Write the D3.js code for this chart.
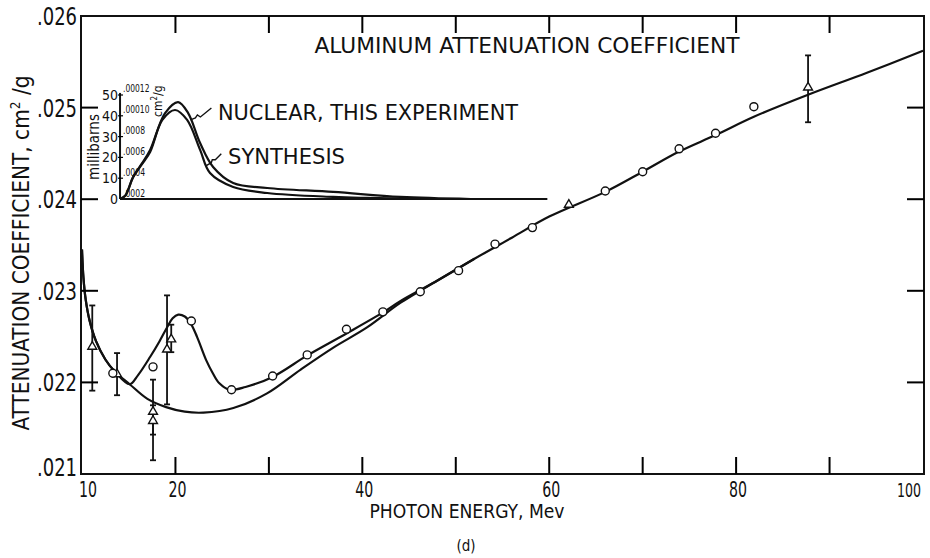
<!DOCTYPE html>
<html>
<head>
  <meta charset="utf-8" />
  <script src="https://cdn.jsdelivr.net/npm/d3@7"></script>
  <style>
    body { margin: 0; background: #fff; }
    svg { display: block; font-family: "Liberation Sans Narrow", "DejaVu Sans Condensed", "Liberation Sans", sans-serif; }
    .frame { fill: none; stroke: #111; stroke-width: 2px; }
    .curve { fill: none; stroke: #111; stroke-width: 2.2px; }
    .err { stroke: #111; stroke-width: 1.8px; }
    .pt { fill: #fff; stroke: #111; stroke-width: 1.4px; }
    .tk { fill: #000; stroke: none; }
    text { fill: #111; }
  </style>
</head>
<body>
<script>
  "use strict";

  // circles (MeV, cm2/g)
  var circleE  = [13.3, 17.6, 21.7, 26.0, 30.4, 34.1, 38.3, 42.2, 46.2, 50.3, 54.2, 58.2, 66.0, 70.0, 73.9, 77.8, 81.9];
  var circleMu = [.02210, .02217, .02267, .02192, .02207, .02230, .02258, .02277, .02299, .02322, .02351, .02369, .02409, .02430, .02455, .02472, .02501];

  // triangles with error bars
  var triE  = [11.1, 13.75, 17.6, 17.6, 19.1, 19.55, 62.1, 87.7];
  var triMu = [.02239, .02209, .02168, .02158, .02236, .02247, .02394, .02522];
  var triLo = [.02191, .02186, .02143, .02115, .02176, .02233, null, .02484];
  var triHi = [.02284, .02232, .02203, .02175, .02295, .02263, null, .02557];

  // smooth (electronic) curve
  var lowE  = [10.0, 10.15, 10.4, 10.8, 11.5, 12.5, 13.5, 15.1, 17.0, 19.0, 21.0, 23.0, 26.2, 29.8, 33.4, 36.9, 40.5, 44.1, 48.0, 52.0, 56.0, 60.0, 66.0, 70.0, 73.9, 77.8, 81.9, 87.7, 94.0, 100.0];
  var lowMu = [.02345, .02315, .02290, .02268, .02245, .02225, .02212, .02198, .02182, .02173, .02168, .02167, .02172, .02188, .02214, .02238, .02260, .02287, .02311, .02335, .02358, .02381, .02408, .02430, .02452, .02470, .02490, .02514, .02538, .02562];

  // curve with nuclear resonance
  var topE  = [10.0, 10.15, 10.4, 10.8, 11.5, 12.5, 13.5, 15.1, 16.0, 17.3, 18.3, 19.1, 19.7, 20.3, 21.0, 21.6, 22.3, 23.3, 24.0, 24.7, 25.8, 27.5, 30.4, 34.2, 38.4, 42.3, 44.1, 48.0, 52.0];
  var topMu = [.02345, .02315, .02290, .02268, .02245, .02225, .02212, .02198, .02208, .02228, .02245, .02260, .02270, .02274, .02272, .02265, .02250, .02224, .02210, .02199, .02192, .02195, .02206, .02230, .02254, .02277, .02289, .02311, .02335];

  // inset cross sections (MeV, millibarns)
  var nucE  = [14.07, 14.6, 14.93, 15.46, 16.4, 17.29, 18.89, 20.29, 21.36, 22.64, 24.03, 26.18, 29.82, 36.89, 44.07, 51.6];
  var nucMb = [0, 1.4, 4.3, 10.6, 17.0, 23.6, 41.3, 46.6, 41.3, 26.9, 15.4, 7.7, 5.3, 3.4, 1.0, 0];
  var synE  = [14.07, 14.6, 14.93, 15.46, 16.4, 17.29, 18.6, 19.96, 21.25, 22.64, 23.7, 26.18, 29.82, 36.89, 40.5, 46.2];
  var synMb = [0, 1.4, 4.3, 10.3, 16.6, 22.6, 38, 42.8, 38, 23.6, 12.5, 5.8, 2.9, 1.0, 0.5, 0];

  var yTicks = [.021, .022, .023, .024, .025, .026];
  var yTickLabels = [".021", ".022", ".023", ".024", ".025", ".026"];
  var yInner = [.022, .023, .024, .025];
  var xTicks = [20, 30, 40, 50, 60, 70, 80, 90];
  var xLabelVals = [10, 20, 40, 60, 80, 100];
  var mbTicks = [0, 10, 20, 30, 40, 50];
  var cmTicks = [2, 4, 6, 8, 10, 12];
  var cmTickLabels = [".0002", ".0004", ".0006", ".0008", ".00010", ".00012"];

  var width = 930, height = 558;
  var pL = 81, pR = 924, pT = 16, pB = 474, tickLen = 17, tickW = 2;

  var svg = d3.select("body").append("svg")
    .attr("width", width)
    .attr("height", height);

  var x = d3.scaleLinear().domain([10, 100]).range([82, 923]);
  var y = d3.scaleLinear().domain([.021, .026]).range([pB, pT]);
  var yMb = d3.scaleLinear().domain([0, 50]).range([199, 95]);
  var yCm = d3.scaleLinear().domain([2, 12]).range([193, 88]);

  // frame
  svg.append("rect").attr("class", "frame")
    .attr("x", pL).attr("y", pT)
    .attr("width", pR - pL).attr("height", pB - pT);

  // y tick labels
  svg.selectAll("text.ylab").data(yTicks).enter().append("text")
    .attr("class", "ylab")
    .attr("x", 77)
    .attr("y", function(d, i) { return i === 0 ? y(d) + 2 : y(d) + 9; })
    .attr("text-anchor", "end")
    .attr("font-size", 24)
    .attr("textLength", 40).attr("lengthAdjust", "spacingAndGlyphs")
    .text(function(d, i) { return yTickLabels[i]; });

  // x tick labels
  svg.selectAll("text.xlab").data(xLabelVals).enter().append("text")
    .attr("class", "xlab")
    .attr("x", function(d) { return d === 100 ? x(d) - 14 : (d === 10 ? x(d) + 6 : x(d) + 2); })
    .attr("y", 497)
    .attr("text-anchor", "middle")
    .attr("font-size", function(d) { return d === 100 ? 20 : 21; })
    .attr("textLength", function(d) { return d === 100 ? 24 : 18; })
    .attr("lengthAdjust", "spacingAndGlyphs")
    .text(function(d) { return d; });

  // axis titles
  svg.append("text")
    .attr("x", 467).attr("y", 518)
    .attr("text-anchor", "middle")
    .attr("font-size", 19)
    .attr("textLength", 195).attr("lengthAdjust", "spacingAndGlyphs")
    .text("PHOTON ENERGY, Mev");

  var ylab = svg.append("text")
    .attr("transform", "translate(29,253) rotate(-90)")
    .attr("text-anchor", "middle")
    .attr("font-size", 23)
    .attr("textLength", 355).attr("lengthAdjust", "spacingAndGlyphs");
  ylab.append("tspan").text("ATTENUATION COEFFICIENT, cm");
  ylab.append("tspan").attr("font-size", 14).attr("dy", -9).text("2");
  ylab.append("tspan").attr("dy", 9).text(" /g");

  svg.append("text")
    .attr("x", 527).attr("y", 53)
    .attr("text-anchor", "middle")
    .attr("font-size", 21)
    .attr("textLength", 425).attr("lengthAdjust", "spacingAndGlyphs")
    .text("ALUMINUM ATTENUATION COEFFICIENT");

  svg.append("text")
    .attr("x", 466).attr("y", 551)
    .attr("text-anchor", "middle")
    .attr("font-size", 15)
    .text("(d)");

  // main curves
  var line = d3.line()
    .x(function(d) { return x(d[0]); })
    .y(function(d) { return y(d[1]); })
    .curve(d3.curveCatmullRom.alpha(0.5));

  svg.append("path").attr("class", "curve")
    .attr("d", line(d3.zip(lowE, lowMu)));
  svg.append("path").attr("class", "curve")
    .attr("d", line(d3.zip(topE, topMu)));

  // error bars
  var tri = d3.range(triE.length).map(function(i) {
    return { e: triE[i], mu: triMu[i], lo: triLo[i], hi: triHi[i] };
  });
  var withErr = tri.filter(function(d) { return d.lo !== null; });
  svg.selectAll("line.errv").data(withErr).enter().append("line")
    .attr("class", "err")
    .attr("x1", function(d) { return x(d.e); })
    .attr("x2", function(d) { return x(d.e); })
    .attr("y1", function(d) { return y(d.lo); })
    .attr("y2", function(d) { return y(d.hi); });
  ["lo", "hi"].forEach(function(k) {
    svg.selectAll("line.cap" + k).data(withErr).enter().append("line")
      .attr("class", "err")
      .attr("x1", function(d) { return x(d.e) - 3; })
      .attr("x2", function(d) { return x(d.e) + 3; })
      .attr("y1", function(d) { return y(d[k]); })
      .attr("y2", function(d) { return y(d[k]); });
  });

  // triangles
  svg.selectAll("path.tri").data(tri).enter().append("path")
    .attr("class", "pt")
    .attr("d", d3.symbol().type(d3.symbolTriangle).size(34))
    .attr("transform", function(d) { return "translate(" + x(d.e) + "," + y(d.mu) + ")"; });

  // circles
  svg.selectAll("circle.pt").data(d3.zip(circleE, circleMu)).enter().append("circle")
    .attr("class", "pt")
    .attr("r", 4)
    .attr("cx", function(d) { return x(d[0]); })
    .attr("cy", function(d) { return y(d[1]); });

  // inset
  var inset = svg.append("g");
  var ix = x(14.07);
  inset.append("line")
    .attr("stroke", "#111").attr("stroke-width", 2)
    .attr("x1", ix).attr("x2", ix)
    .attr("y1", yMb(0)).attr("y2", yMb(51));
  inset.append("line")
    .attr("stroke", "#111").attr("stroke-width", 2)
    .attr("x1", ix).attr("x2", x(59.8))
    .attr("y1", yMb(0)).attr("y2", yMb(0));

  inset.selectAll("rect.mbt").data(mbTicks.slice(1)).enter().append("rect")
    .attr("class", "tk")
    .attr("x", ix - 2).attr("width", 5)
    .attr("y", function(d) { return yMb(d) - 0.6; }).attr("height", 1.2);

  inset.selectAll("text.mb").data(mbTicks).enter().append("text")
    .attr("x", ix - 2)
    .attr("y", function(d) { return yMb(d) + 5; })
    .attr("text-anchor", "end")
    .attr("font-size", 14)
    .text(function(d) { return d; });

  inset.selectAll("text.cm").data(cmTicks).enter().append("text")
    .attr("x", ix + 3)
    .attr("y", function(d) { return yCm(d) + 4; })
    .attr("font-size", 11)
    .attr("textLength", function(d, i) { return cmTickLabels[i].length * 4.4; })
    .attr("lengthAdjust", "spacingAndGlyphs")
    .text(function(d, i) { return cmTickLabels[i]; });

  inset.append("text")
    .attr("transform", "translate(" + (ix - 21) + "," + yMb(25) + ") rotate(-90)")
    .attr("text-anchor", "middle")
    .attr("font-size", 15)
    .text("millibarns");

  var cmLab = inset.append("text")
    .attr("transform", "translate(" + (ix + 42) + "," + yMb(47) + ") rotate(-90)")
    .attr("text-anchor", "middle")
    .attr("font-size", 12);
  cmLab.append("tspan").text("cm");
  cmLab.append("tspan").attr("font-size", 8).attr("dy", -5).text("2");
  cmLab.append("tspan").attr("dy", 5).text("/g");

  var inLine = d3.line()
    .x(function(d) { return x(d[0]); })
    .y(function(d) { return yMb(d[1]); })
    .curve(d3.curveCatmullRom.alpha(0.5));

  inset.append("path").attr("class", "curve").attr("stroke-width", 2)
    .attr("d", inLine(d3.zip(nucE, nucMb)));
  inset.append("path").attr("class", "curve").attr("stroke-width", 2)
    .attr("d", inLine(d3.zip(synE, synMb)));

  // labels with leaders
  inset.append("text")
    .attr("x", 218).attr("y", 120)
    .attr("font-size", 21)
    .attr("textLength", 300).attr("lengthAdjust", "spacingAndGlyphs")
    .text("NUCLEAR, THIS EXPERIMENT");
  inset.append("text")
    .attr("x", 228).attr("y", 164)
    .attr("font-size", 21)
    .attr("textLength", 117).attr("lengthAdjust", "spacingAndGlyphs")
    .text("SYNTHESIS");

  var nx = x(21.6), ny = yMb(38);
  inset.append("path").attr("fill", "none").attr("stroke", "#111").attr("stroke-width", 1.4)
    .attr("d", "M" + nx + "," + ny + " l5,-2 l2,-3 l3,2 l11,-9");
  var sx = x(23.3), sy = yMb(16);
  inset.append("path").attr("fill", "none").attr("stroke", "#111").attr("stroke-width", 1.4)
    .attr("d", "M" + sx + "," + sy + " l5,-3 l1,-3 l3,0 l6,-6");

  // inward ticks on all four sides, drawn last as filled rects
  var ticks = svg.append("g");
  ticks.selectAll("rect.yl").data(yInner).enter().append("rect").attr("class", "tk")
    .attr("x", pL).attr("width", tickLen)
    .attr("y", function(d) { return y(d) - tickW / 2; }).attr("height", tickW);
  ticks.selectAll("rect.yr").data(yInner).enter().append("rect").attr("class", "tk")
    .attr("x", pR - tickLen).attr("width", tickLen)
    .attr("y", function(d) { return y(d) - tickW / 2; }).attr("height", tickW);
  ticks.selectAll("rect.xt").data(xTicks).enter().append("rect").attr("class", "tk")
    .attr("x", function(d) { return x(d) - tickW / 2; }).attr("width", tickW)
    .attr("y", pT).attr("height", tickLen);
  ticks.selectAll("rect.xb").data(xTicks).enter().append("rect").attr("class", "tk")
    .attr("x", function(d) { return x(d) - tickW / 2; }).attr("width", tickW)
    .attr("y", pB - tickLen).attr("height", tickLen);
</script>
</body>
</html>
